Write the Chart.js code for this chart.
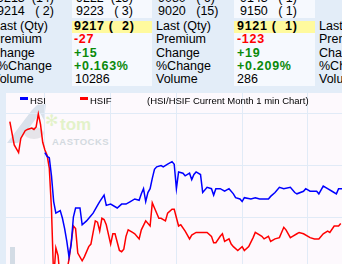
<!DOCTYPE html>
<html>
<head>
<meta charset="utf-8">
<script src="https://cdn.jsdelivr.net/npm/chart.js@4.4.0/dist/chart.umd.min.js"></script>
<style>
  html, body { margin: 0; padding: 0; }
  body {
    width: 342px; height: 264px; overflow: hidden; position: relative;
    background: #e3edf8; color: #000;
    font-family: "Liberation Sans", Arial, sans-serif; font-size: 12.5px;
  }
  .bg { position: absolute; background: #f6f9fe; }
  .hl { background: #fffa9e; }
  .t { position: absolute; white-space: pre; line-height: 13px; }
  .b { font-weight: bold; letter-spacing: 0.7px; }
  .red { color: #ff0000; }
  .green { color: #0a8a0a; }
  #panel { position: absolute; left: 6px; top: 93px; width: 336px; height: 171px; background: #fdf9fd; overflow: hidden; }
  #chart { position: absolute; left: 0; top: 0; }
  .lg { position: absolute; font-size: 9.5px; line-height: 10px; white-space: pre; top: 3px; }
  .sw { position: absolute; top: 4.3px; width: 8px; height: 3px; }
  .wm { position: absolute; white-space: pre; }
</style>
</head>
<body>
  <!-- value cell backgrounds -->
  <div class="bg" style="left:72px;top:0;width:80px;height:17.5px"></div>
  <div class="bg" style="left:234px;top:0;width:81px;height:17.5px"></div>
  <div class="bg" style="left:72px;top:20.5px;width:80px;height:65.5px"></div>
  <div class="bg" style="left:234px;top:20.5px;width:81px;height:65.5px"></div>
  <div class="bg hl" style="left:72px;top:21px;width:80px;height:12px"></div>
  <div class="bg hl" style="left:234px;top:21px;width:81px;height:12px"></div>

  <!-- top queue rows -->
  <div class="t" style="left:-3px;top:-8.3px">9213  (14)</div>
  <div class="t" style="left:76px;top:-8.3px">9222  (15)</div>
  <div class="t" style="left:158px;top:-8.3px">9080   ( 6)</div>
  <div class="t" style="left:240px;top:-8.3px">9143   ( 1)</div>
  <div class="t" style="left:-3px;top:4.9px">9214   ( 2)</div>
  <div class="t" style="left:76px;top:4.9px">9223   ( 3)</div>
  <div class="t" style="left:158px;top:4.9px">9020   (15)</div>
  <div class="t" style="left:240px;top:4.9px">9150   ( 1)</div>

  <!-- quote table -->
  <div class="t" style="left:-7px;top:20.2px">Last (Qty)</div>
  <div class="t" style="left:-8px;top:33.4px">Premium</div>
  <div class="t" style="left:-9px;top:46.6px">Change</div>
  <div class="t" style="left:-3px;top:59.8px">%Change</div>
  <div class="t" style="left:-8px;top:73px">Volume</div>

  <div class="t b" style="left:74px;top:20.2px">9217 (  2)</div>
  <div class="t b red" style="left:74px;top:33.4px">-27</div>
  <div class="t b green" style="left:74px;top:46.6px">+15</div>
  <div class="t b green" style="left:74px;top:59.8px">+0.163%</div>
  <div class="t" style="left:75px;top:73px">10286</div>

  <div class="t" style="left:156px;top:20.2px">Last (Qty)</div>
  <div class="t" style="left:156px;top:33.4px">Premium</div>
  <div class="t" style="left:156px;top:46.6px">Change</div>
  <div class="t" style="left:156px;top:59.8px">%Change</div>
  <div class="t" style="left:156px;top:73px">Volume</div>

  <div class="t b" style="left:237px;top:20.2px">9121 (  1)</div>
  <div class="t b red" style="left:237px;top:33.4px">-123</div>
  <div class="t b green" style="left:237px;top:46.6px">+19</div>
  <div class="t b green" style="left:237px;top:59.8px">+0.209%</div>
  <div class="t" style="left:237px;top:73px">286</div>

  <div class="t" style="left:319px;top:20.2px">Last (Qty)</div>
  <div class="t" style="left:319px;top:33.4px">Premium</div>
  <div class="t" style="left:319px;top:46.6px">Change</div>
  <div class="t" style="left:319px;top:59.8px">%Change</div>
  <div class="t" style="left:319px;top:73px">Volume</div>

  <div id="panel">
    <!-- faint logo watermark -->
    <svg style="position:absolute;left:0;top:0" width="120" height="60">
      <path d="M1,50 L26,17 L31,12 L40,11 L38,27 L34,20 L12,50 Z" fill="#ccd8e4" opacity="0.75"/>
      <ellipse cx="28" cy="40" rx="10" ry="6" fill="#dcdcdf" opacity="0.7"/>
    </svg>
    <div class="wm" style="left:39px;top:18px;font:bold 16px 'DejaVu Sans';color:#e3f2c9">✻</div>
    <div class="wm" style="left:54px;top:22px;font:bold 17px 'Liberation Sans';color:#e3f2c9">tom</div>
    <div class="wm" style="left:46px;top:43px;font:bold 9.5px 'Liberation Sans';color:#d3d9e0;letter-spacing:0.5px">AASTOCKS</div>

    <canvas id="chart" width="336" height="171"></canvas>

    <div class="sw" style="left:14px;background:#0000ff"></div>
    <div class="lg" style="left:24px">HSI</div>
    <div class="sw" style="left:74px;background:#ff0000"></div>
    <div class="lg" style="left:84px">HSIF</div>
    <div class="lg" style="left:141px">(HSI/HSIF Current Month 1 min Chart)</div>
    <div style="position:absolute;left:4px;top:154px;width:5px;height:17px;background:#d3dce5"></div>
  </div>

<script>
// times are minutes since midnight (600 = 10:00)
const hsiTime = [600, 601, 602, 603, 604, 605, 607, 608, 609, 610, 611, 612, 613, 614, 616, 617, 619, 621, 622, 624,
  625, 627, 628, 630, 633, 635, 637, 639, 641, 643, 644, 645, 646, 647, 648, 649, 650, 651, 653, 654,
  656, 658, 659, 660, 661, 663, 664, 666, 667, 668, 669, 671, 672, 674, 676, 677, 678, 680, 682, 684,
  686, 687, 689, 690, 691, 694, 696, 698, 699, 702, 703, 705, 707, 709, 712, 714, 715, 718, 719, 721,
  724, 725, 727, 729, 731, 733, 734, 736];
const hsiValue = [9270, 9267, 9266, 9252, 9232, 9223, 9225, 9219, 9211, 9201, 9189, 9199, 9220, 9227, 9227, 9214, 9217, 9221, 9223, 9229,
  9232, 9237, 9229, 9230, 9227, 9230, 9230, 9232, 9234, 9233, 9238, 9242, 9232, 9239, 9242, 9250, 9257, 9259, 9260, 9259,
  9261, 9263, 9261, 9242, 9255, 9254, 9252, 9254, 9249, 9253, 9255, 9253, 9239, 9243, 9242, 9237, 9242, 9242, 9240, 9242,
  9238, 9235, 9234, 9232, 9235, 9234, 9235, 9234, 9234, 9234, 9236, 9239, 9243, 9242, 9243, 9239, 9238, 9240, 9242, 9240,
  9240, 9238, 9244, 9242, 9240, 9238, 9242, 9242];

const hsifTime = [584, 586, 588, 589, 591, 592, 594, 595, 596, 597, 598, 599, 600, 601, 602, 603, 604, 605, 606, 607,
  609, 610, 611, 612, 613, 614, 615, 617, 618, 620, 621, 622, 623, 624, 625, 626, 627, 628, 630, 631,
  632, 634, 635, 636, 637, 638, 640, 641, 643, 644, 646, 648, 649, 650, 652, 653, 655, 656, 658, 659,
  661, 662, 664, 666, 667, 669, 672, 674, 676, 677, 678, 680, 681, 682, 684, 685, 686, 688, 690, 691,
  693, 695, 696, 699, 700, 702, 703, 705, 707, 709, 710, 712, 713, 715, 716, 718, 721, 723, 725, 727,
  729, 730, 732, 734, 735];
const hsifValue = [9294, 9276, 9270, 9281, 9287, 9288, 9289, 9288, 9290, 9300, 9292, 9278, 9272, 9268, 9258, 9226, 9172, 9196, 9190, 9172,
  9165, 9178, 9187, 9200, 9213, 9211, 9192, 9186, 9189, 9197, 9199, 9208, 9217, 9216, 9209, 9219, 9218, 9214, 9199, 9207,
  9207, 9194, 9193, 9195, 9205, 9210, 9208, 9207, 9203, 9210, 9217, 9213, 9231, 9227, 9219, 9219, 9217, 9223, 9226, 9226,
  9213, 9214, 9209, 9203, 9206, 9208, 9208, 9208, 9205, 9200, 9200, 9205, 9207, 9201, 9203, 9199, 9197, 9194, 9197, 9194,
  9197, 9204, 9208, 9205, 9203, 9205, 9201, 9203, 9204, 9212, 9210, 9204, 9205, 9207, 9208, 9207, 9204, 9203, 9203, 9207,
  9209, 9208, 9213, 9213, 9215];

const timeTicks = [600, 630, 660, 690, 720];
const priceTicks = [9220, 9260, 9300];

const toPoints = (xs, ys) => xs.map((x, i) => ({ x: x, y: ys[i] }));

const ctx = document.getElementById("chart").getContext("2d");
new Chart(ctx, {
  type: "line",
  data: {
    datasets: [
      {
        label: "HSI",
        data: toPoints(hsiTime, hsiValue),
        borderColor: "#0000ff",
        borderWidth: 1.5,
        pointRadius: 0,
        tension: 0
      },
      {
        label: "HSIF",
        data: toPoints(hsifTime, hsifValue),
        borderColor: "#ff0000",
        borderWidth: 1.5,
        pointRadius: 0,
        tension: 0
      }
    ]
  },
  options: {
    responsive: false,
    animation: false,
    layout: { padding: 0, autoPadding: false },
    plugins: {
      legend: { display: false },
      tooltip: { enabled: false }
    },
    scales: {
      x: {
        type: "linear",
        min: 582.25,
        max: 735.56,
        afterBuildTicks: s => { s.ticks = timeTicks.map(v => ({ value: v })); },
        ticks: { display: false },
        grid: { color: "#e1ebf7", drawTicks: false },
        border: { display: false }
      },
      y: {
        min: 9183.5,
        max: 9316.3,
        afterBuildTicks: s => { s.ticks = priceTicks.map(v => ({ value: v })); },
        ticks: { display: false },
        grid: { color: "#e1ebf7", drawTicks: false },
        border: { display: false }
      }
    }
  }
});
</script>
</body>
</html>
